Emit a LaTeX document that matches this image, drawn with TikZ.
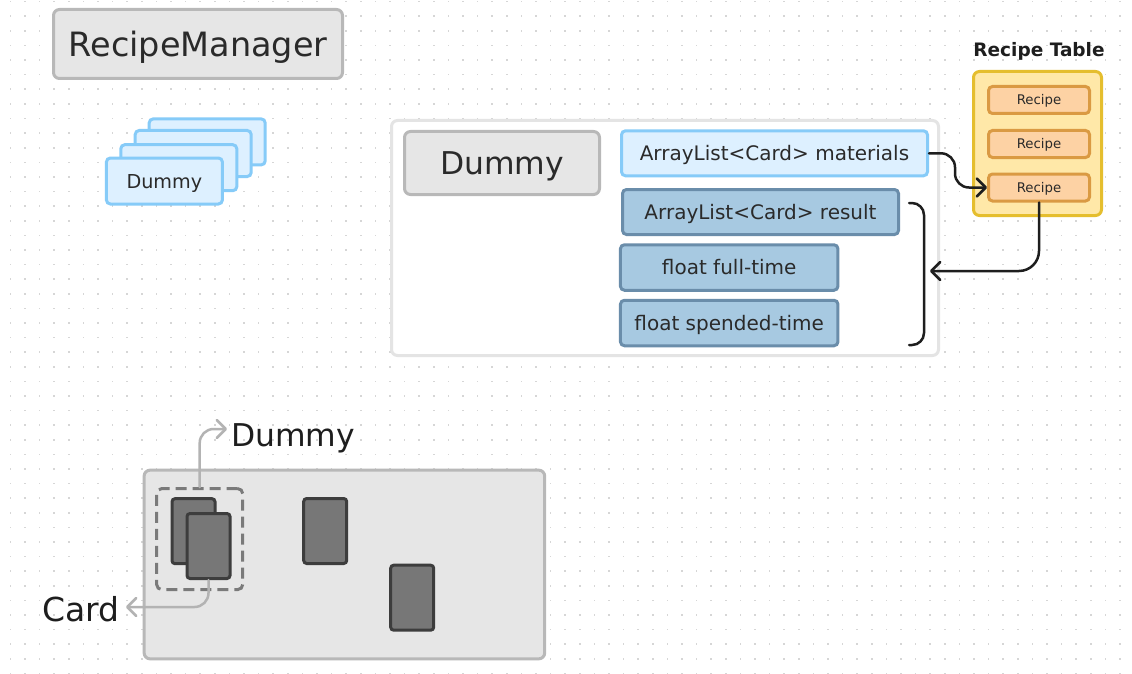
\documentclass[tikz,border=0pt]{standalone}
\usepackage{fontspec}
\setmainfont{DejaVu Sans}
\usetikzlibrary{arrows.meta}
\definecolor{dotc}{HTML}{D6D6D6}
\definecolor{grayfill}{HTML}{E6E6E6}
\definecolor{grayline}{HTML}{B8B8B8}
\definecolor{contl}{HTML}{E4E4E4}
\definecolor{bluef}{HTML}{DDF0FF}
\definecolor{bluel}{HTML}{86CBF8}
\definecolor{dbluef}{HTML}{A7C9E1}
\definecolor{dbluel}{HTML}{6A8DAA}
\definecolor{yelf}{HTML}{FFE8A8}
\definecolor{yell}{HTML}{E5BE2E}
\definecolor{recf}{HTML}{FDD2A4}
\definecolor{recl}{HTML}{DA9A43}
\definecolor{cardf}{HTML}{777777}
\definecolor{cardl}{HTML}{3D3D3D}
\definecolor{dashc}{HTML}{7A7A7A}
\definecolor{txt}{HTML}{2A2A2A}
\definecolor{txtd}{HTML}{1E1E1E}
\definecolor{garrow}{HTML}{B3B3B3}
\begin{document}
\begin{tikzpicture}[x=1pt,y=-1pt,
  bigfont/.style={font=\fontsize{31.4}{31.4}\selectfont, text height=22.9pt, text depth=0pt},
  fieldfont/.style={font=\fontsize{20}{20}\selectfont, text height=14.6pt, text depth=0pt},
  graybox/.style={draw=grayline, fill=grayfill, line width=3pt, rounded corners=6pt, inner sep=0pt, text=txt},
  bluecard/.style={draw=bluel, fill=bluef, line width=3pt, rounded corners=4pt, inner sep=0pt, minimum width=116, minimum height=46, text=txt},
  lightfield/.style={draw=bluel, fill=bluef, line width=3pt, rounded corners=4pt, inner sep=0pt, text=txt, fieldfont},
  darkfield/.style={draw=dbluel, fill=dbluef, line width=3pt, rounded corners=4pt, inner sep=0pt, text=txt, fieldfont},
  recipebox/.style={draw=recl, fill=recf, line width=3pt, rounded corners=4pt, inner sep=0pt, minimum width=101, minimum height=27, text=txt, font=\fontsize{13.3}{13.3}\selectfont, text height=9.7pt, text depth=0pt},
  cardbox/.style={draw=cardl, fill=cardf, line width=3pt, rounded corners=3pt, inner sep=0pt, minimum width=43, minimum height=65},
  darkline/.style={draw=txtd, line width=2.5pt, line cap=round},
  grayline/.style={draw=garrow, line width=2.5pt, line cap=round},
  chev/.style={-{Straight Barb[length=9pt,width=18pt,line cap=round,line join=round]}}
]
\useasboundingbox (0,0) rectangle (1132,674);
\fill[white] (0,0) rectangle (1132,674);
\foreach \i in {0,...,77} {
  \foreach \j in {0,...,46} {
    \fill[dotc] ({10.4+14.6*\i-0.8},{1.7+14.6*\j-0.8}) rectangle ++(1.6,1.6);
  }
}
% RecipeManager
\node[graybox, font=\fontsize{33.5}{33.5}\selectfont, text height=24.4pt, text depth=0pt, minimum width=289, minimum height=69] (rm) at (198,44) {RecipeManager};
% stacked Dummy cards
\node[bluecard] (s4) at (207.2,141.9) {};
\node[bluecard] (s3) at (193.2,153.5) {};
\node[bluecard] (s2) at (178.8,167.7) {};
\node[bluecard, font=\fontsize{19.2}{19.2}\selectfont, text height=14pt, text depth=0pt] (s1) at (164.4,181) {Dummy};
% container
\node[draw=contl, fill=white, line width=3pt, rounded corners=6pt, minimum width=547, minimum height=235] (cont) at (665,238) {};
\node[graybox, bigfont, minimum width=195, minimum height=63] (dum) at (502,163) {Dummy};
\node[lightfield, minimum width=306, minimum height=45] (mat) at (774.5,153.3) {ArrayList<Card> materials};
\node[darkfield, minimum width=276, minimum height=45] (res) at (760.5,212) {ArrayList<Card> result};
\node[darkfield, minimum width=217.5, minimum height=45.5] (full) at (729.2,267.5) {float full-time};
\node[darkfield, minimum width=217.5, minimum height=45.5] (spent) at (729.2,323) {float spended-time};
% Recipe table
\node[anchor=base, font=\bfseries\fontsize{18.5}{18.5}\selectfont, text=txtd, inner sep=0pt] (rtt) at (1039,56.7) {Recipe Table};
\node[draw=yell, fill=yelf, line width=3pt, rounded corners=6pt, minimum width=128, minimum height=144] (rt) at (1037.5,143.5) {};
\node[recipebox] (r1) at (1039,100) {Recipe};
\node[recipebox] (r2) at (1039,144) {Recipe};
\node[recipebox] (r3) at (1039,187.5) {Recipe};
% connectors top
\draw[darkline, chev, rounded corners=14pt] (mat.east) -- ++(26,0) |- (r3.west);
\coordinate (brk) at (930,271);
\draw[darkline, chev, rounded corners=20pt] (r3.south) |- (brk);
\coordinate (bt) at (909,203);
\coordinate (bb) at (909,345);
\draw[darkline, rounded corners=12pt] (bt) -- (924,203) -- (924,345) -- (bb);
% bottom scene
\node[graybox, minimum width=400.6, minimum height=188.7] (board) at (344.4,564.5) {};
\node[draw=dashc, line width=3pt, dash pattern=on 11pt off 6pt, rounded corners=5pt, minimum width=86, minimum height=101] (dash) at (199.7,539.1) {};
\node[cardbox] (c1) at (193.5,531.2) {};
\node[cardbox] (c2) at (208.5,546) {};
\node[cardbox] (c3) at (325.2,531) {};
\node[cardbox] (c4) at (412.2,597.7) {};
\node[anchor=base west, font=\fontsize{31.4}{31.4}\selectfont, text=txtd, inner sep=0pt] (lblD) at (231,446) {Dummy};
\node[anchor=base west, font=\fontsize{33}{33}\selectfont, text=txtd, inner sep=0pt] (lblC) at (42,621) {Card};
\coordinate (dtip) at (227,429);
\coordinate (ctip) at (126,607);
\draw[grayline, chev, rounded corners=14pt] (dash.north) |- (dtip);
\draw[grayline, chev, rounded corners=14pt] (c2.south) |- (ctip);
\end{tikzpicture}
\end{document}
